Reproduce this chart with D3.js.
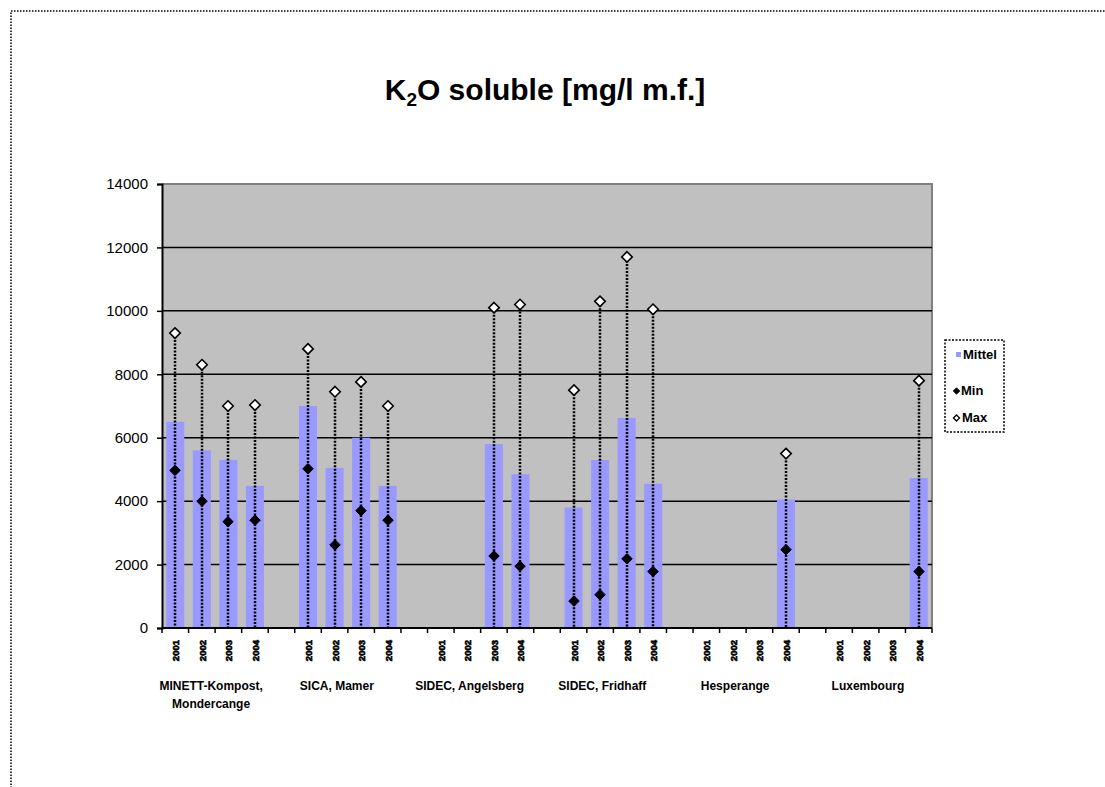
<!DOCTYPE html>
<html>
<head>
<meta charset="utf-8">
<script src="https://cdn.jsdelivr.net/npm/d3@7/dist/d3.min.js"></script>
<style>
  html, body { margin: 0; padding: 0; background: #fff; }
  svg { display: block; font-family: "Liberation Sans", Arial, sans-serif; }
</style>
</head>
<body>
<svg id="chart" width="1105" height="787"></svg>
<script>
// Sites and sampling years
const groups = ["MINETT-Kompost, Mondercange", "SICA, Mamer", "SIDEC, Angelsberg", "SIDEC, Fridhaff", "Hesperange", "Luxembourg"];
const groupLines = [["MINETT-Kompost,", "Mondercange"], ["SICA, Mamer"], ["SIDEC, Angelsberg"], ["SIDEC, Fridhaff"], ["Hesperange"], ["Luxembourg"]];
const years = ["2001", "2002", "2003", "2004"];

// K2O soluble [mg/l m.f.] per site and year (null = no sample)
const mittel = [6500, 5600, 5300, 4480,  7000, 5050, 6000, 4480,  null, null, 5800, 4850,  3800, 5300, 6620, 4550,  null, null, null, 4050,  null, null, null, 4730];
const minVal = [4970, 4000, 3350, 3400,  5020, 2620, 3700, 3400,  null, null, 2270, 1950,  850, 1050, 2180, 1780,  null, null, null, 2470,  null, null, null, 1780];
const maxVal = [9300, 8300, 7000, 7030,  8800, 7450, 7760, 7000,  null, null, 10100, 10200,  7500, 10300, 11700, 10050,  null, null, null, 5500,  null, null, null, 7800];

const yTicks = [0, 2000, 4000, 6000, 8000, 10000, 12000, 14000];

// Category slots: 4 years per site, one empty slot between sites
const slots = [];
const records = [];
groups.forEach((g, gi) => {
  years.forEach((yr, yi) => {
    const key = gi + "|" + yr;
    slots.push(key);
    const i = gi * years.length + yi;
    records.push({ key, year: yr, group: gi, mittel: mittel[i], min: minVal[i], max: maxVal[i] });
  });
  if (gi < groups.length - 1) slots.push("sep" + gi);
});

const svg = d3.select("#chart");
const plot = { left: 162, right: 932, top: 184, bottom: 628 };

const x = d3.scaleBand().domain(slots).range([plot.left, plot.right]).paddingInner(0.32).paddingOuter(0.16);
const step = x.step();
const y = d3.scaleLinear().domain([0, 14000]).range([plot.bottom, plot.top]);
const cx = key => Math.round(x(key) + x.bandwidth() / 2);

// Outer chart frame (only top and left edges fall inside the window)
svg.append("path")
  .attr("d", `M11,${800} L11,11 L1110,11`)
  .attr("fill", "none").attr("stroke", "#000").attr("stroke-width", 1.5)
  .attr("stroke-dasharray", "1.5,1.5");

// Title with subscript
const title = svg.append("text")
  .attr("x", 545).attr("y", 100)
  .attr("text-anchor", "middle")
  .attr("font-size", 30).attr("font-weight", "bold").attr("fill", "#000");
title.append("tspan").text("K");
title.append("tspan").attr("font-size", 19).attr("dy", 6).text("2");
title.append("tspan").attr("dy", -6).text("O soluble [mg/l m.f.]");

// Plot background
svg.append("rect")
  .attr("x", plot.left).attr("y", plot.top)
  .attr("width", plot.right - plot.left).attr("height", plot.bottom - plot.top)
  .attr("fill", "#C0C0C0");
svg.append("path")
  .attr("d", `M${plot.left},${plot.top} L${plot.right},${plot.top} L${plot.right},${plot.bottom}`)
  .attr("fill", "none").attr("stroke", "#808080").attr("stroke-width", 2);

// Gridlines
svg.append("g").selectAll("line")
  .data(yTicks.filter(t => t > 0 && t < 14000))
  .join("line")
  .attr("x1", plot.left).attr("x2", plot.right)
  .attr("y1", d => y(d)).attr("y2", d => y(d))
  .attr("stroke", "#000").attr("stroke-width", 1.5);

// Mean bars
svg.append("g").selectAll("rect")
  .data(records.filter(d => d.mittel != null))
  .join("rect")
  .attr("x", d => x(d.key))
  .attr("width", x.bandwidth())
  .attr("y", d => y(d.mittel))
  .attr("height", d => y(0) - y(d.mittel))
  .attr("fill", "#9999FF");

// Drop lines from the maximum down to the axis
svg.append("g").selectAll("line")
  .data(records.filter(d => d.max != null))
  .join("line")
  .attr("x1", d => cx(d.key)).attr("x2", d => cx(d.key))
  .attr("y1", d => y(d.max)).attr("y2", y(0))
  .attr("stroke", "#000").attr("stroke-width", 2.5)
  .attr("stroke-dasharray", "2,1.5");

// Y axis
const yAxis = d3.axisLeft(y).tickValues(yTicks).tickSize(5).tickFormat(d3.format("d"));
const gy = svg.append("g").attr("transform", `translate(${plot.left},0)`).call(yAxis);
gy.select(".domain").attr("stroke", "#000").attr("stroke-width", 2);
gy.selectAll(".tick line").attr("stroke", "#000").attr("stroke-width", 1.5);
gy.selectAll(".tick text")
  .attr("font-size", 15).attr("font-family", "Liberation Sans, Arial, sans-serif")
  .attr("fill", "#000").attr("x", -14);

// X axis line and tick marks between categories
svg.append("line")
  .attr("x1", plot.left).attr("x2", plot.right)
  .attr("y1", y(0)).attr("y2", y(0))
  .attr("stroke", "#000").attr("stroke-width", 2);
const boundaries = d3.range(slots.length + 1).map(i => plot.left + i * step);
svg.append("g").selectAll("line")
  .data(boundaries)
  .join("line")
  .attr("x1", d => d).attr("x2", d => d)
  .attr("y1", y(0)).attr("y2", y(0) + 5)
  .attr("stroke", "#000").attr("stroke-width", 1.5);

// Year labels (rotated)
svg.append("g").selectAll("text")
  .data(records)
  .join("text")
  .attr("transform", d => `translate(${cx(d.key) + 3.5},640) rotate(-90)`)
  .attr("text-anchor", "end")
  .attr("font-size", 9.5).attr("font-weight", "bold").attr("fill", "#000")
  .attr("stroke", "#000").attr("stroke-width", 0.6)
  .text(d => d.year);

// Site labels under each group
const gl = svg.append("g");
groups.forEach((g, gi) => {
  const first = x(gi + "|" + years[0]);
  const last = x(gi + "|" + years[years.length - 1]) + x.bandwidth();
  const mid = (first + last) / 2;
  const shift = groupLines[gi].length > 1 ? -4 : -11;
  groupLines[gi].forEach((line, li) => {
    gl.append("text")
      .attr("x", mid + shift).attr("y", 690 + li * 18)
      .attr("text-anchor", "middle")
      .attr("font-size", 12).attr("font-weight", "bold").attr("fill", "#000")
      .text(line);
  });
});

// Min / Max markers
const diamond = d3.symbol().type(d3.symbolDiamond2).size(70);
svg.append("g").selectAll("path")
  .data(records.filter(d => d.min != null))
  .join("path")
  .attr("d", diamond)
  .attr("transform", d => `translate(${cx(d.key)},${y(d.min)})`)
  .attr("fill", "#000").attr("stroke", "#000").attr("stroke-width", 1);
svg.append("g").selectAll("path")
  .data(records.filter(d => d.max != null))
  .join("path")
  .attr("d", diamond)
  .attr("transform", d => `translate(${cx(d.key)},${y(d.max)})`)
  .attr("fill", "#fff").attr("stroke", "#000").attr("stroke-width", 1.6);

// Legend
const lg = svg.append("g");
lg.append("rect")
  .attr("x", 945).attr("y", 340).attr("width", 59).attr("height", 92)
  .attr("fill", "#fff").attr("stroke", "#000").attr("stroke-width", 1.5)
  .attr("stroke-dasharray", "2,1.5");
lg.append("rect").attr("x", 956).attr("y", 352).attr("width", 5).attr("height", 5).attr("fill", "#9999FF");
lg.append("path").attr("d", d3.symbol().type(d3.symbolDiamond2).size(26))
  .attr("transform", "translate(956.5,391)").attr("fill", "#000").attr("stroke", "#000");
lg.append("path").attr("d", d3.symbol().type(d3.symbolDiamond2).size(24))
  .attr("transform", "translate(956.5,418)").attr("fill", "#fff").attr("stroke", "#000").attr("stroke-width", 1.3);
const legendItems = [["Mittel", 359, 963], ["Min", 395, 961], ["Max", 422, 962]];
lg.selectAll("text.lt").data(legendItems).join("text")
  .attr("class", "lt")
  .attr("x", d => d[2]).attr("y", d => d[1])
  .attr("font-size", 13).attr("font-weight", "bold").attr("fill", "#000")
  .text(d => d[0]);
</script>
</body>
</html>
